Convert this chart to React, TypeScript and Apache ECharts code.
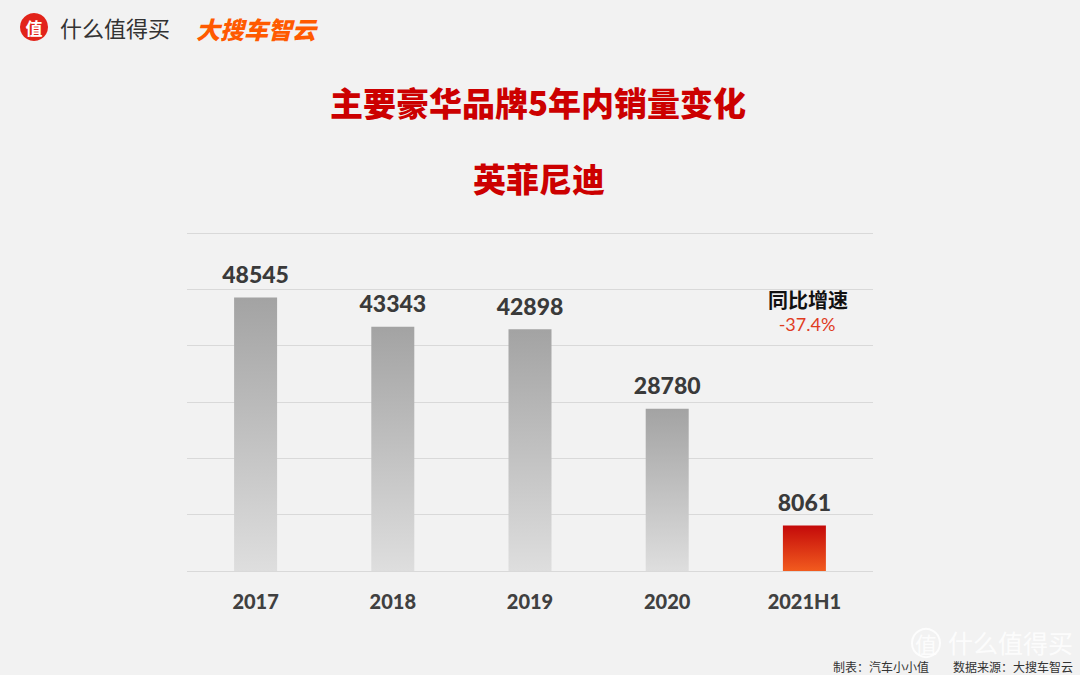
import React, { useEffect, useRef } from "react";
import * as echarts from "echarts";

const categories = ["2017", "2018", "2019", "2020", "2021H1"];
const sales = [48545, 43343, 42898, 28780, 8061];
const highlightIndex = 4;
const growthLabel = "同比增速";
const growthValue = "-37.4%";

const CJK = '"Noto Sans CJK SC", "Noto Sans", sans-serif';
const NUM = 'Lato, "Noto Sans", sans-serif';

export default function App() {
  const ref = useRef<HTMLDivElement>(null);
  useEffect(() => {
    const chart = echarts.init(ref.current!, null, { renderer: "svg" });
    const grayGrad = new echarts.graphic.LinearGradient(0, 0, 0, 1, [
      { offset: 0, color: "#a3a3a3" },
      { offset: 1, color: "#dedede" },
    ]);
    const redGrad = new echarts.graphic.LinearGradient(0, 0, 0, 1, [
      { offset: 0, color: "#c40a0a" },
      { offset: 1, color: "#f25b1e" },
    ]);
    chart.setOption({
      animation: false,
      backgroundColor: "#f2f2f2",
      grid: { left: 187, right: 207, top: 233, bottom: 104 },
      xAxis: {
        type: "category",
        data: categories,
        axisLine: { show: false },
        axisTick: { show: false },
        axisLabel: {
          color: "#404040",
          fontFamily: NUM,
          fontWeight: 900,
          fontSize: 20,
          margin: 20,
        },
      },
      yAxis: {
        type: "value",
        min: 0,
        max: 60000,
        interval: 10000,
        axisLabel: { show: false },
        axisLine: { show: false },
        axisTick: { show: false },
        splitLine: { lineStyle: { color: "#d9d9d9", width: 1 } },
      },
      series: [
        {
          type: "bar",
          barWidth: 43,
          data: sales.map((v, i) => ({
            value: v,
            itemStyle: { color: i === highlightIndex ? redGrad : grayGrad },
          })),
          label: {
            show: true,
            position: "top",
            distance: 12,
            color: "#3a3a3a",
            fontFamily: NUM,
            fontWeight: 900,
            fontSize: 23,
          },
        },
      ],
      graphic: [
        { type: "circle", shape: { cx: 34, cy: 27, r: 14 }, style: { fill: "#e2231a" } },
        {
          type: "text",
          x: 34,
          y: 27,
          style: { text: "值", fill: "#fff", font: `bold 17px ${CJK}`, align: "center", verticalAlign: "middle" },
        },
        {
          type: "text",
          x: 60,
          y: 27,
          style: { text: "什么值得买", fill: "#333333", font: `22px ${CJK}`, verticalAlign: "middle" },
        },
        {
          type: "text",
          x: 196,
          y: 28,
          style: { text: "大搜车智云", fill: "#ff5a00", font: `italic 900 24px ${CJK}`, verticalAlign: "middle" },
        },
        {
          type: "text",
          x: 538,
          y: 102,
          style: { text: "主要豪华品牌5年内销量变化", fill: "#cc0000", font: `900 33px ${CJK}`, align: "center", verticalAlign: "middle" },
        },
        {
          type: "text",
          x: 539,
          y: 178,
          style: { text: "英菲尼迪", fill: "#cc0000", font: `900 33px ${CJK}`, align: "center", verticalAlign: "middle" },
        },
        {
          type: "text",
          x: 808,
          y: 299,
          style: { text: growthLabel, fill: "#111111", font: `bold 20px ${CJK}`, align: "center", verticalAlign: "middle" },
        },
        {
          type: "text",
          x: 807,
          y: 324,
          style: { text: growthValue, fill: "#e03c1e", font: `18px ${NUM}`, align: "center", verticalAlign: "middle" },
        },
        {
          type: "circle",
          shape: { cx: 926, cy: 643, r: 14 },
          style: { fill: "none", stroke: "rgba(255,255,255,0.85)", lineWidth: 2 },
        },
        {
          type: "text",
          x: 926,
          y: 643,
          style: { text: "值", fill: "rgba(255,255,255,0.85)", font: `22px ${CJK}`, align: "center", verticalAlign: "middle" },
        },
        {
          type: "text",
          x: 948,
          y: 642,
          style: { text: "什么值得买", fill: "rgba(255,255,255,0.85)", font: `25px ${CJK}`, verticalAlign: "middle" },
        },
        {
          type: "text",
          x: 833,
          y: 666,
          style: { text: "制表：汽车小小值", fill: "#333333", font: `12px ${CJK}`, verticalAlign: "middle" },
        },
        {
          type: "text",
          x: 953,
          y: 666,
          style: { text: "数据来源：大搜车智云", fill: "#333333", font: `12px ${CJK}`, verticalAlign: "middle" },
        },
      ],
    });
    return () => chart.dispose();
  }, []);
  return (
    <div
      ref={ref}
      style={{ position: "fixed", left: 0, top: 0, width: 1080, height: 675 }}
    />
  );
}
